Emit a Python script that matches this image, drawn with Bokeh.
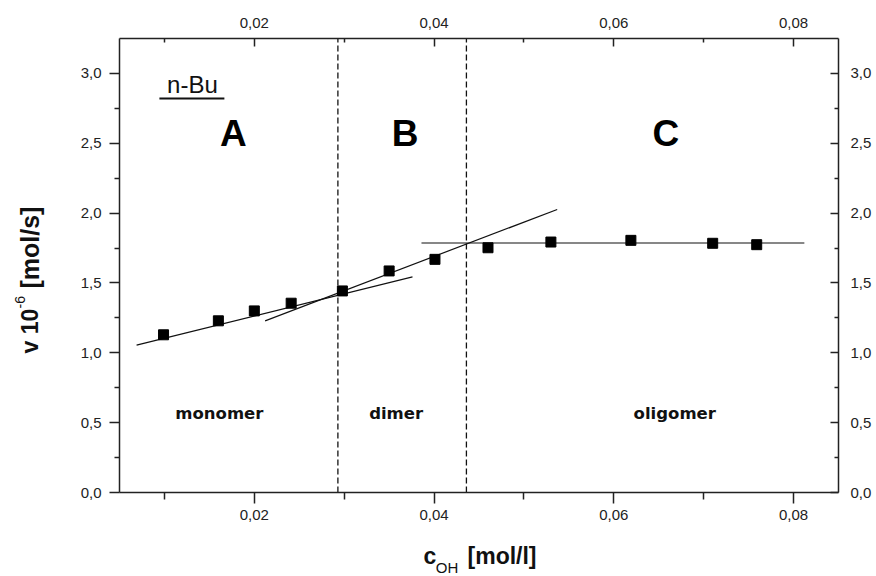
import math
from bokeh.plotting import figure
from bokeh.layouts import row, column
from bokeh.models import Range1d, LinearAxis, FixedTicker, CustomJSTickFormatter, Label
from bokeh.core.properties import value
from bokeh.embed import file_html
from bokeh.resources import INLINE

# data points
c_oh = [0.0099, 0.0160, 0.0200, 0.0241, 0.0298, 0.0350, 0.0401, 0.0460, 0.0530, 0.0619, 0.0710, 0.0759]
rate = [1.129, 1.229, 1.300, 1.355, 1.443, 1.586, 1.669, 1.752, 1.793, 1.805, 1.784, 1.774]

# fit lines
mono_x = [0.0069, 0.0376]
mono_y = [1.055, 1.543]
dimer_x = [0.0212, 0.0537]
dimer_y = [1.229, 2.026]
olig_x = [0.0386, 0.0812]
olig_y = [1.786, 1.786]

# region boundaries
bounds = [0.0293, 0.0436]

# ticks
x_major = [0.02, 0.04, 0.06, 0.08]
x_minor = [0.01, 0.03, 0.05, 0.07]
y_major = [0.0, 0.5, 1.0, 1.5, 2.0, 2.5, 3.0]
y_minor = [0.25, 0.75, 1.25, 1.75, 2.25, 2.75]

# annotation texts
letters = ["A", "B", "C"]
letters_x = [0.01767, 0.03678, 0.06578]
letters_y = [2.571, 2.571, 2.571]
names = ["monomer", "dimer", "oligomer"]
names_x = [0.01611, 0.03578, 0.06678]
names_y = [0.564, 0.564, 0.564]

X0, X1 = 0.005, 0.085
Y0, Y1 = 0.0, 3.25

INK = "#111111"

p = figure(width=816, height=540, x_range=Range1d(X0, X1), y_range=Range1d(Y0, Y1),
           output_backend="svg", toolbar_location=None, title=None,
           min_border_left=59, min_border_right=38, min_border_top=38, min_border_bottom=48)
p.outline_line_color = None
p.grid.visible = False

xfmt = CustomJSTickFormatter(code="return tick.toFixed(2).replace('.', ',');")
yfmt = CustomJSTickFormatter(code="return tick.toFixed(1).replace('.', ',');")

def style(ax, tin, tout, mtin, mtout, standoff):
    ax.axis_line_color = "#222222"
    ax.axis_line_width = 1.5
    ax.major_tick_line_color = "#222222"
    ax.minor_tick_line_color = "#222222"
    ax.major_tick_line_width = 1.5
    ax.minor_tick_line_width = 1.5
    ax.major_tick_in = tin
    ax.major_tick_out = tout
    ax.minor_tick_in = mtin
    ax.minor_tick_out = mtout
    ax.major_label_standoff = standoff
    ax.major_label_text_font = "Liberation Sans"
    ax.major_label_text_font_size = "15px"
    ax.major_label_text_color = "#222222"

bx = p.xaxis[0]
bx.ticker = FixedTicker(ticks=x_major, minor_ticks=x_minor)
bx.formatter = xfmt
style(bx, 0, 11, 0, 7, 6)

ly = p.yaxis[0]
ly.ticker = FixedTicker(ticks=y_major, minor_ticks=y_minor)
ly.formatter = yfmt
style(ly, 0, 10, 0, 5, 8)

tx = LinearAxis(ticker=FixedTicker(ticks=x_major, minor_ticks=x_minor), formatter=xfmt)
style(tx, 8, 0, 4, 0, 11)
p.add_layout(tx, "above")

ry = LinearAxis(ticker=FixedTicker(ticks=y_major, minor_ticks=y_minor), formatter=yfmt)
style(ry, 8, 0, 4, 0, 12)
p.add_layout(ry, "right")

# boundaries
for b in bounds:
    p.line([b, b], [Y0, Y1], line_color=INK, line_width=1.3, line_dash="6 3")

# fit lines
p.line(mono_x, mono_y, line_color=INK, line_width=1.2)
p.line(dimer_x, dimer_y, line_color=INK, line_width=1.2)
p.line(olig_x, olig_y, line_color=INK, line_width=1.2)

# points
p.scatter(c_oh, rate, marker="square", size=10, fill_color="black", line_color="black")

# region letters and names
p.text(x=letters_x, y=letters_y, text=letters, text_font=value("Liberation Sans"),
       text_font_style="bold", text_font_size="37px", text_align="center",
       text_baseline="middle", text_color="black")
p.text(x=names_x, y=names_y, text=names, text_font=value("DejaVu Sans"),
       text_font_style="bold", text_font_size="16.5px", text_align="center",
       text_baseline="middle", text_color=INK)

# n-Bu label with underline
nbu_x, nbu_y = 0.01311, 2.921
p.text(x=[nbu_x], y=[nbu_y], text=["n-Bu"], text_font=value("Liberation Sans"),
       text_font_size="24px", text_align="center", text_baseline="middle", text_color=INK)
p.segment(x0=[0.00944], y0=[2.821], x1=[0.01667], y1=[2.821], line_color=INK, line_width=2)

# --- x axis title strip (pixel coordinates) ---
xfig = figure(width=816, height=36, x_range=Range1d(60, 876), y_range=Range1d(576, 540),
              output_backend="svg", toolbar_location=None, title=None,
              x_axis_location=None, y_axis_location=None, min_border=0)
xfig.outline_line_color = None
xfig.grid.visible = False
xfig.add_layout(Label(x=405, y=555, text="c", text_font="Liberation Sans", text_font_style="bold",
                      text_font_size="23px", text_align="left", text_baseline="alphabetic", text_color=INK))
xfig.add_layout(Label(x=419, y=567, text="OH", text_font="Liberation Sans",
                      text_font_size="15px", text_align="left", text_baseline="alphabetic", text_color=INK))
xfig.add_layout(Label(x=455, y=555, text="[mol/l]", text_font="Liberation Sans", text_font_style="bold",
                      text_font_size="23px", text_align="left", text_baseline="alphabetic", text_color=INK))

# --- y axis title strip (pixel coordinates) ---
yfig = figure(width=60, height=576, x_range=Range1d(0, 60), y_range=Range1d(576, 0),
              output_backend="svg", toolbar_location=None, title=None,
              x_axis_location=None, y_axis_location=None, min_border=0)
yfig.outline_line_color = None
yfig.grid.visible = False
up = math.pi / 2
yfig.add_layout(Label(x=29, y=353, text="v 10", angle=up, text_font="Liberation Sans", text_font_style="bold",
                      text_font_size="23px", text_align="left", text_baseline="alphabetic", text_color=INK))
yfig.add_layout(Label(x=19, y=308, text="-6", angle=up, text_font="Liberation Sans",
                      text_font_size="14px", text_align="left", text_baseline="alphabetic", text_color=INK))
yfig.add_layout(Label(x=29, y=288, text="[mol/s]", angle=up, text_font="Liberation Sans", text_font_style="bold",
                      text_font_size="25px", text_align="left", text_baseline="alphabetic", text_color=INK))

layout = row(yfig, column(p, xfig))

open("out.html", "w").write(file_html(layout, INLINE))
